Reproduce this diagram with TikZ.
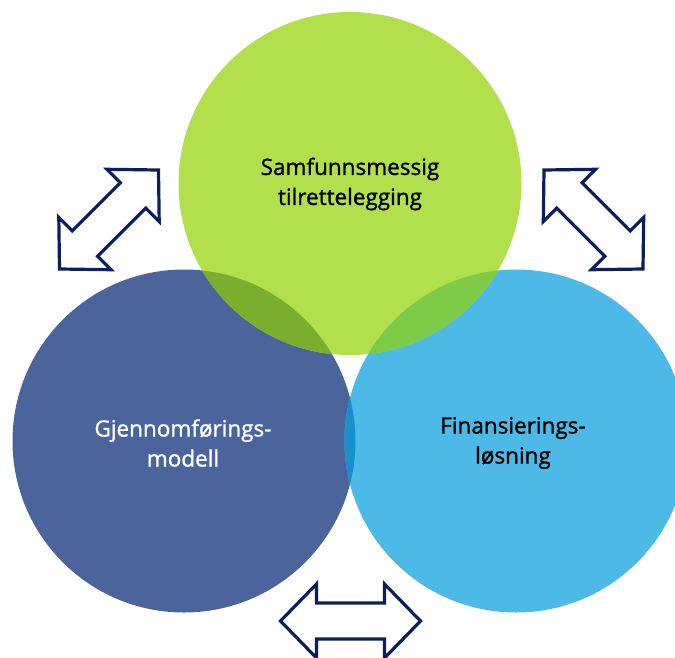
\documentclass[tikz,border=0pt]{standalone}
\usepackage{fontspec}
\setmainfont{Open Sans}
\newfontfamily\lblfont{Open Sans}[FakeBold=1.2]
\definecolor{cgreen}{HTML}{B2DF4C}
\definecolor{cdark}{HTML}{4B659C}
\definecolor{clight}{HTML}{4CB9E6}
\definecolor{cgd}{HTML}{7BAE2E}
\definecolor{cgl}{HTML}{7DCB46}
\definecolor{cdl}{HTML}{1A8FCF}
\definecolor{cnavy}{HTML}{0C1F5B}
\tikzset{
  lbl/.style={align=center, font=\lblfont\fontsize{22.5}{30}\selectfont, inner sep=0pt},
  dblarrow/.style={draw=cnavy, fill=white, line width=3.2pt, line join=miter},
}
\begin{document}
\begin{tikzpicture}[x=1pt,y=-1pt]
\useasboundingbox (0,0) rectangle (675,657);
\coordinate (cg) at (350,183.5);
\coordinate (cd) at (184,441);
\coordinate (cl) at (516,441);
\def\R{171.5}
% circles
\fill[cdark] (cd) circle (\R);
\fill[clight] (cl) circle (\R);
\fill[cgreen] (cg) circle (\R);
% overlaps
\begin{scope}
  \clip (cg) circle (\R);
  \fill[cgd] (cd) circle (\R);
  \fill[cgl] (cl) circle (\R);
\end{scope}
\begin{scope}
  \clip (cd) circle (\R);
  \fill[cdl] (cl) circle (\R);
\end{scope}
% labels
\node[lbl, text=black] (tg) at (350,184) {Samfunnsmessig\\tilrettelegging};
\node[lbl, text=white] (td) at (183,443) {Gjennomførings-\\modell};
\node[lbl, text=black] (tl) at (513,443) {Finansierings-\\løsning};
% double arrows: length 140, head length 36, head half-width 37, shaft half-width 18
\def\dblarrowpath{(-70,0) -- (-34,-37) -- (-34,-18) -- (34,-18) -- (34,-37) -- (70,0) -- (34,37) -- (34,18) -- (-34,18) -- (-34,37) -- cycle}
\draw[dblarrow, shift={(109,219.5)}, rotate=45] \dblarrowpath;
\draw[dblarrow, shift={(593.5,219.5)}, rotate=-45] \dblarrowpath;
\draw[dblarrow, shift={(350.5,621)}] \dblarrowpath;
\end{tikzpicture}
\end{document}
